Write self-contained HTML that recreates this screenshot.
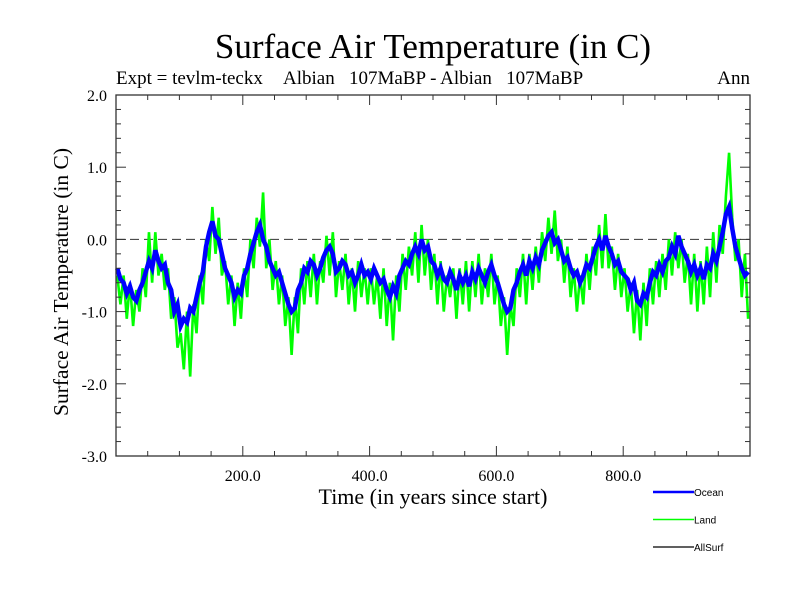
<!DOCTYPE html>
<html><head><meta charset="utf-8"><style>
body{margin:0;background:#fff;}
svg{display:block;}
.serif{font-family:"Liberation Serif",serif;fill:#000;}
.sans{font-family:"Liberation Sans",sans-serif;fill:#000;}
</style></head><body>
<svg id="chart" width="800" height="600" viewBox="0 0 800 600">
<text class="serif" x="433" y="58" font-size="35" text-anchor="middle">Surface Air Temperature (in C)</text>
<text class="serif" x="116" y="84" font-size="19">Expt = tevlm-teckx</text>
<text class="serif" x="283" y="84" font-size="19" xml:space="preserve">Albian   107MaBP - Albian   107MaBP</text>
<text class="serif" x="750" y="84" font-size="19" text-anchor="end">Ann</text>
<text class="serif" transform="translate(68,282) rotate(-90)" font-size="21.5" text-anchor="middle">Surface Air Temperature (in C)</text>
<text class="serif" x="433" y="504" font-size="22" text-anchor="middle">Time (in years since start)</text>
<g id="plot"></g>
<g id="legend"></g>
</svg>
<script>
const ocean = [-0.4,-0.55,-0.6,-0.75,-0.65,-0.8,-0.85,-0.7,-0.6,-0.45,-0.3,-0.4,-0.15,-0.3,-0.4,-0.35,-0.6,-0.7,-1.0,-0.9,
-1.2,-1.1,-1.15,-0.95,-1.0,-0.8,-0.6,-0.45,-0.1,0.1,0.25,0.05,0.0,-0.2,-0.4,-0.5,-0.6,-0.8,-0.7,-0.75,
-0.5,-0.4,-0.2,-0.05,0.1,0.2,0.0,-0.1,-0.3,-0.4,-0.5,-0.45,-0.6,-0.75,-0.9,-1.0,-0.95,-0.7,-0.6,-0.4,
-0.45,-0.3,-0.35,-0.5,-0.4,-0.25,-0.15,-0.1,-0.2,-0.45,-0.4,-0.3,-0.35,-0.5,-0.45,-0.6,-0.5,-0.35,-0.5,-0.45,
-0.55,-0.4,-0.5,-0.6,-0.55,-0.7,-0.8,-0.65,-0.75,-0.5,-0.4,-0.3,-0.35,-0.2,-0.1,-0.2,0.0,-0.15,-0.1,-0.3,
-0.35,-0.5,-0.4,-0.55,-0.6,-0.45,-0.55,-0.7,-0.5,-0.6,-0.5,-0.65,-0.45,-0.55,-0.4,-0.5,-0.6,-0.45,-0.35,-0.5,
-0.6,-0.75,-0.9,-1.0,-0.95,-0.7,-0.6,-0.45,-0.35,-0.5,-0.3,-0.4,-0.25,-0.35,-0.15,-0.05,0.05,0.1,-0.05,0.0,
-0.15,-0.3,-0.25,-0.4,-0.5,-0.45,-0.6,-0.5,-0.35,-0.4,-0.25,-0.1,0.0,-0.15,0.05,-0.1,-0.2,-0.35,-0.3,-0.45,
-0.5,-0.55,-0.7,-0.6,-0.85,-0.9,-0.75,-0.8,-0.6,-0.45,-0.5,-0.35,-0.45,-0.3,-0.25,-0.1,-0.2,0.05,-0.1,-0.2,
-0.3,-0.45,-0.35,-0.5,-0.4,-0.55,-0.35,-0.4,-0.2,-0.3,-0.1,0.1,0.35,0.45,0.15,-0.1,-0.25,-0.4,-0.5,-0.45];
const land = [-0.5,-0.9,-0.5,-1.1,-0.6,-1.2,-0.7,-1.0,-0.4,-0.8,0.1,-0.6,0.1,-0.5,-0.2,-0.7,-0.4,-1.1,-0.8,-1.5,
-1.3,-1.8,-1.0,-1.9,-0.9,-1.3,-0.5,-0.9,0.0,-0.3,0.45,-0.2,0.3,-0.5,-0.3,-0.9,-0.5,-1.2,-0.6,-1.1,
-0.4,-0.8,0.0,-0.4,0.3,-0.1,0.65,-0.4,0.0,-0.7,-0.3,-0.9,-0.5,-1.2,-0.8,-1.6,-0.8,-1.3,-0.4,-0.9,
-0.3,-0.8,-0.2,-0.9,-0.3,-0.6,0.05,-0.5,0.1,-0.8,-0.3,-0.7,-0.2,-0.9,-0.4,-1.0,-0.3,-0.8,-0.4,-0.9,
-0.4,-0.9,-0.5,-1.1,-0.4,-1.2,-0.6,-1.4,-0.5,-1.0,-0.2,-0.7,-0.1,-0.5,0.1,-0.6,0.2,-0.5,0.0,-0.7,
-0.2,-0.9,-0.3,-1.0,-0.5,-0.8,-0.4,-1.1,-0.4,-0.9,-0.3,-1.0,-0.3,-0.8,-0.2,-0.9,-0.4,-0.8,-0.2,-0.9,
-0.5,-1.2,-0.8,-1.6,-0.9,-1.2,-0.4,-0.8,-0.2,-0.9,-0.2,-0.7,-0.1,-0.6,0.1,-0.3,0.3,-0.2,0.4,-0.3,
0.0,-0.6,-0.1,-0.8,-0.4,-1.0,-0.5,-0.9,-0.2,-0.7,-0.1,-0.5,0.2,-0.4,0.35,-0.4,-0.1,-0.7,-0.2,-0.8,
-0.4,-1.0,-0.6,-1.3,-0.7,-1.4,-0.6,-1.2,-0.4,-0.9,-0.3,-0.8,-0.2,-0.7,0.0,-0.5,0.1,-0.4,0.0,-0.6,
-0.2,-0.9,-0.2,-1.0,-0.3,-0.9,-0.1,-0.8,0.1,-0.6,0.2,-0.2,0.6,1.2,0.3,-0.3,0.0,-0.8,-0.2,-1.1];
const yearStep = 5;
const xTickValues = [200, 400, 600, 800];
const xTickLabels = ["200.0", "400.0", "600.0", "800.0"];
const yTickValues = [2, 1, 0, -1, -2, -3];
const yTickLabels = ["2.0", "1.0", "0.0", "-1.0", "-2.0", "-3.0"];

const L = 116, R = 750, T = 95, B = 456;
const X0 = 0, X1 = 1000, Y0 = -3, Y1 = 2;
const xs = v => L + (v - X0) / (X1 - X0) * (R - L);
const ys = v => B - (v - Y0) / (Y1 - Y0) * (B - T);
const NS = "http://www.w3.org/2000/svg";
const plot = document.getElementById('plot');
function mk(tag, attrs, parent) {
  const e = document.createElementNS(NS, tag);
  for (const k in attrs) e.setAttribute(k, attrs[k]);
  parent.appendChild(e);
  return e;
}
const zl = mk('line', {x1: L, x2: R, y1: ys(0), y2: ys(0), stroke: '#333', 'stroke-width': 1, 'stroke-dasharray': '9,5'}, plot);



function series(vals, color, width, name) {
  const pts = vals.map((v, i) => xs(i * yearStep + 2) + ',' + ys(v)).join(' ');
  const p = mk('polyline', {points: pts, fill: 'none', stroke: color, 'stroke-width': width, 'stroke-linejoin': 'miter'}, plot);
  
  
}
series(land, '#00ff00', 2.6, 'land-series');
series(ocean, '#0000ff', 4.5, 'ocean-series');

const fr = mk('rect', {x: L, y: T, width: R - L, height: B - T, fill: 'none', stroke: '#333', 'stroke-width': 1.3}, plot);



for (let v = 50; v < X1; v += 50) {
  const major = v % 200 === 0;
  const len = major ? 10 : 5;
  mk('line', {x1: xs(v), x2: xs(v), y1: B, y2: B - len, stroke: '#333', 'stroke-width': 1}, plot);
  mk('line', {x1: xs(v), x2: xs(v), y1: T, y2: T + len, stroke: '#333', 'stroke-width': 1}, plot);
}
xTickValues.forEach((v, i) => {
  const t = mk('text', {x: xs(v), y: B + 25, 'font-size': 16, 'text-anchor': 'middle', class: 'serif'}, plot);
  t.textContent = xTickLabels[i];
  
  
});
for (let k = 0; k <= 25; k++) {
  const v = Y0 + k * 0.2;
  const major = k % 5 === 0;
  const len = major ? 10 : 5;
  mk('line', {x1: L, x2: L + len, y1: ys(v), y2: ys(v), stroke: '#333', 'stroke-width': 1}, plot);
  mk('line', {x1: R, x2: R - len, y1: ys(v), y2: ys(v), stroke: '#333', 'stroke-width': 1}, plot);
}
yTickValues.forEach((v, i) => {
  const t = mk('text', {x: 107, y: ys(v) + 6, 'font-size': 16, 'text-anchor': 'end', class: 'serif'}, plot);
  t.textContent = yTickLabels[i];
  
  
});

const legendNames = ["Ocean", "Land", "AllSurf"];
const legendColors = ["#0000ff", "#00ff00", "#000000"];
const legendWidths = [2.5, 1.5, 1.2];
const lg = document.getElementById('legend');
legendNames.forEach((n, i) => {
  const y = 492 + i * 27.5;
  const ln = mk('line', {x1: 653, x2: 694, y1: y, y2: y, stroke: legendColors[i], 'stroke-width': legendWidths[i]}, lg);
  
  
  const t = mk('text', {x: 694, y: y + 4, 'font-size': 10, class: 'sans'}, lg);
  t.textContent = n;
  
  
});
</script>
</body></html>
